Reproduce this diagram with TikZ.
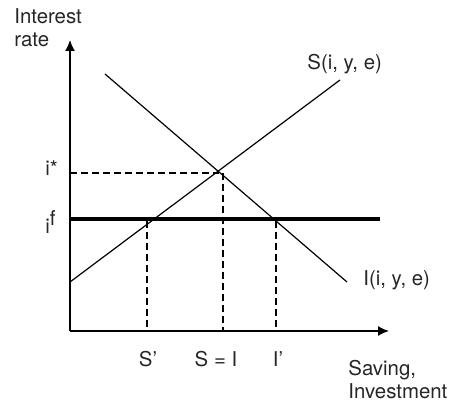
\documentclass[tikz,border=0pt]{standalone}
\usepackage{fontspec}
\setmainfont{TeX Gyre Heros}
\usetikzlibrary{arrows.meta}
\begin{document}
\begin{tikzpicture}[x=0.5pt,y=-0.5pt,
  lbl/.style={inner sep=0pt, font=\fontsize{10.2}{11.5}\selectfont, text=black!85},
  axis/.style={line width=0.75pt, -{Latex[length=5.5pt,width=5pt]}},
  curve/.style={line width=0.6pt},
  guide/.style={line width=0.55pt, dash pattern=on 3.5pt off 2pt},
  world/.style={line width=2pt}]
\useasboundingbox (0,0) rectangle (451,401);
% axes
\coordinate (O) at (70,331);
\coordinate (ytop) at (70,40);
\coordinate (xend) at (389,331);
\draw[axis] (O) -- (ytop);
\draw[axis] (O) -- (xend);
% curves
\coordinate (Sa) at (70,282);
\coordinate (Sb) at (340,80);
\coordinate (Ia) at (105,74);
\coordinate (Ib) at (347,282);
\draw[curve] (Sa) -- (Sb);
\draw[curve] (Ia) -- (Ib);
% world rate
\coordinate (fa) at (70,219.5);
\coordinate (fb) at (380,219.5);
\draw[world] (fa) -- (fb);
% guides
\coordinate (istar) at (70,173);
\coordinate (E) at (219,173);
\coordinate (Etop) at (223,173);
\coordinate (Ebot) at (223,331);
\coordinate (Sp) at (147,221);
\coordinate (Spb) at (147,331);
\coordinate (Ip) at (276,221);
\coordinate (Ipb) at (276,331);
\draw[guide] (istar) -- (E);
\draw[guide] (Etop) -- (Ebot);
\draw[guide] (Sp) -- (Spb);
\draw[guide] (Ip) -- (Ipb);
% labels
\node[lbl, align=left, anchor=north west] (ylab) at (14,8) {Interest\\rate};
\node[lbl, anchor=west] (istarlab) at (45,168) {i*};
\node[lbl, anchor=west] (iflab) at (45,222) {i\raisebox{0.75ex}{f}};
\node[lbl, anchor=west] (Slab) at (307,64) {S(i, y, e)};
\node[lbl, anchor=west] (Ilab) at (363,280) {I(i, y, e)};
\node[lbl] (Splab) at (148,359) {S’};
\node[lbl] (SIlab) at (216,359) {S = I};
\node[lbl] (Iplab) at (278,359) {I’};
\node[lbl, align=left, anchor=north west] (xlab) at (348,360) {Saving,\\Investment};
\end{tikzpicture}
\end{document}
